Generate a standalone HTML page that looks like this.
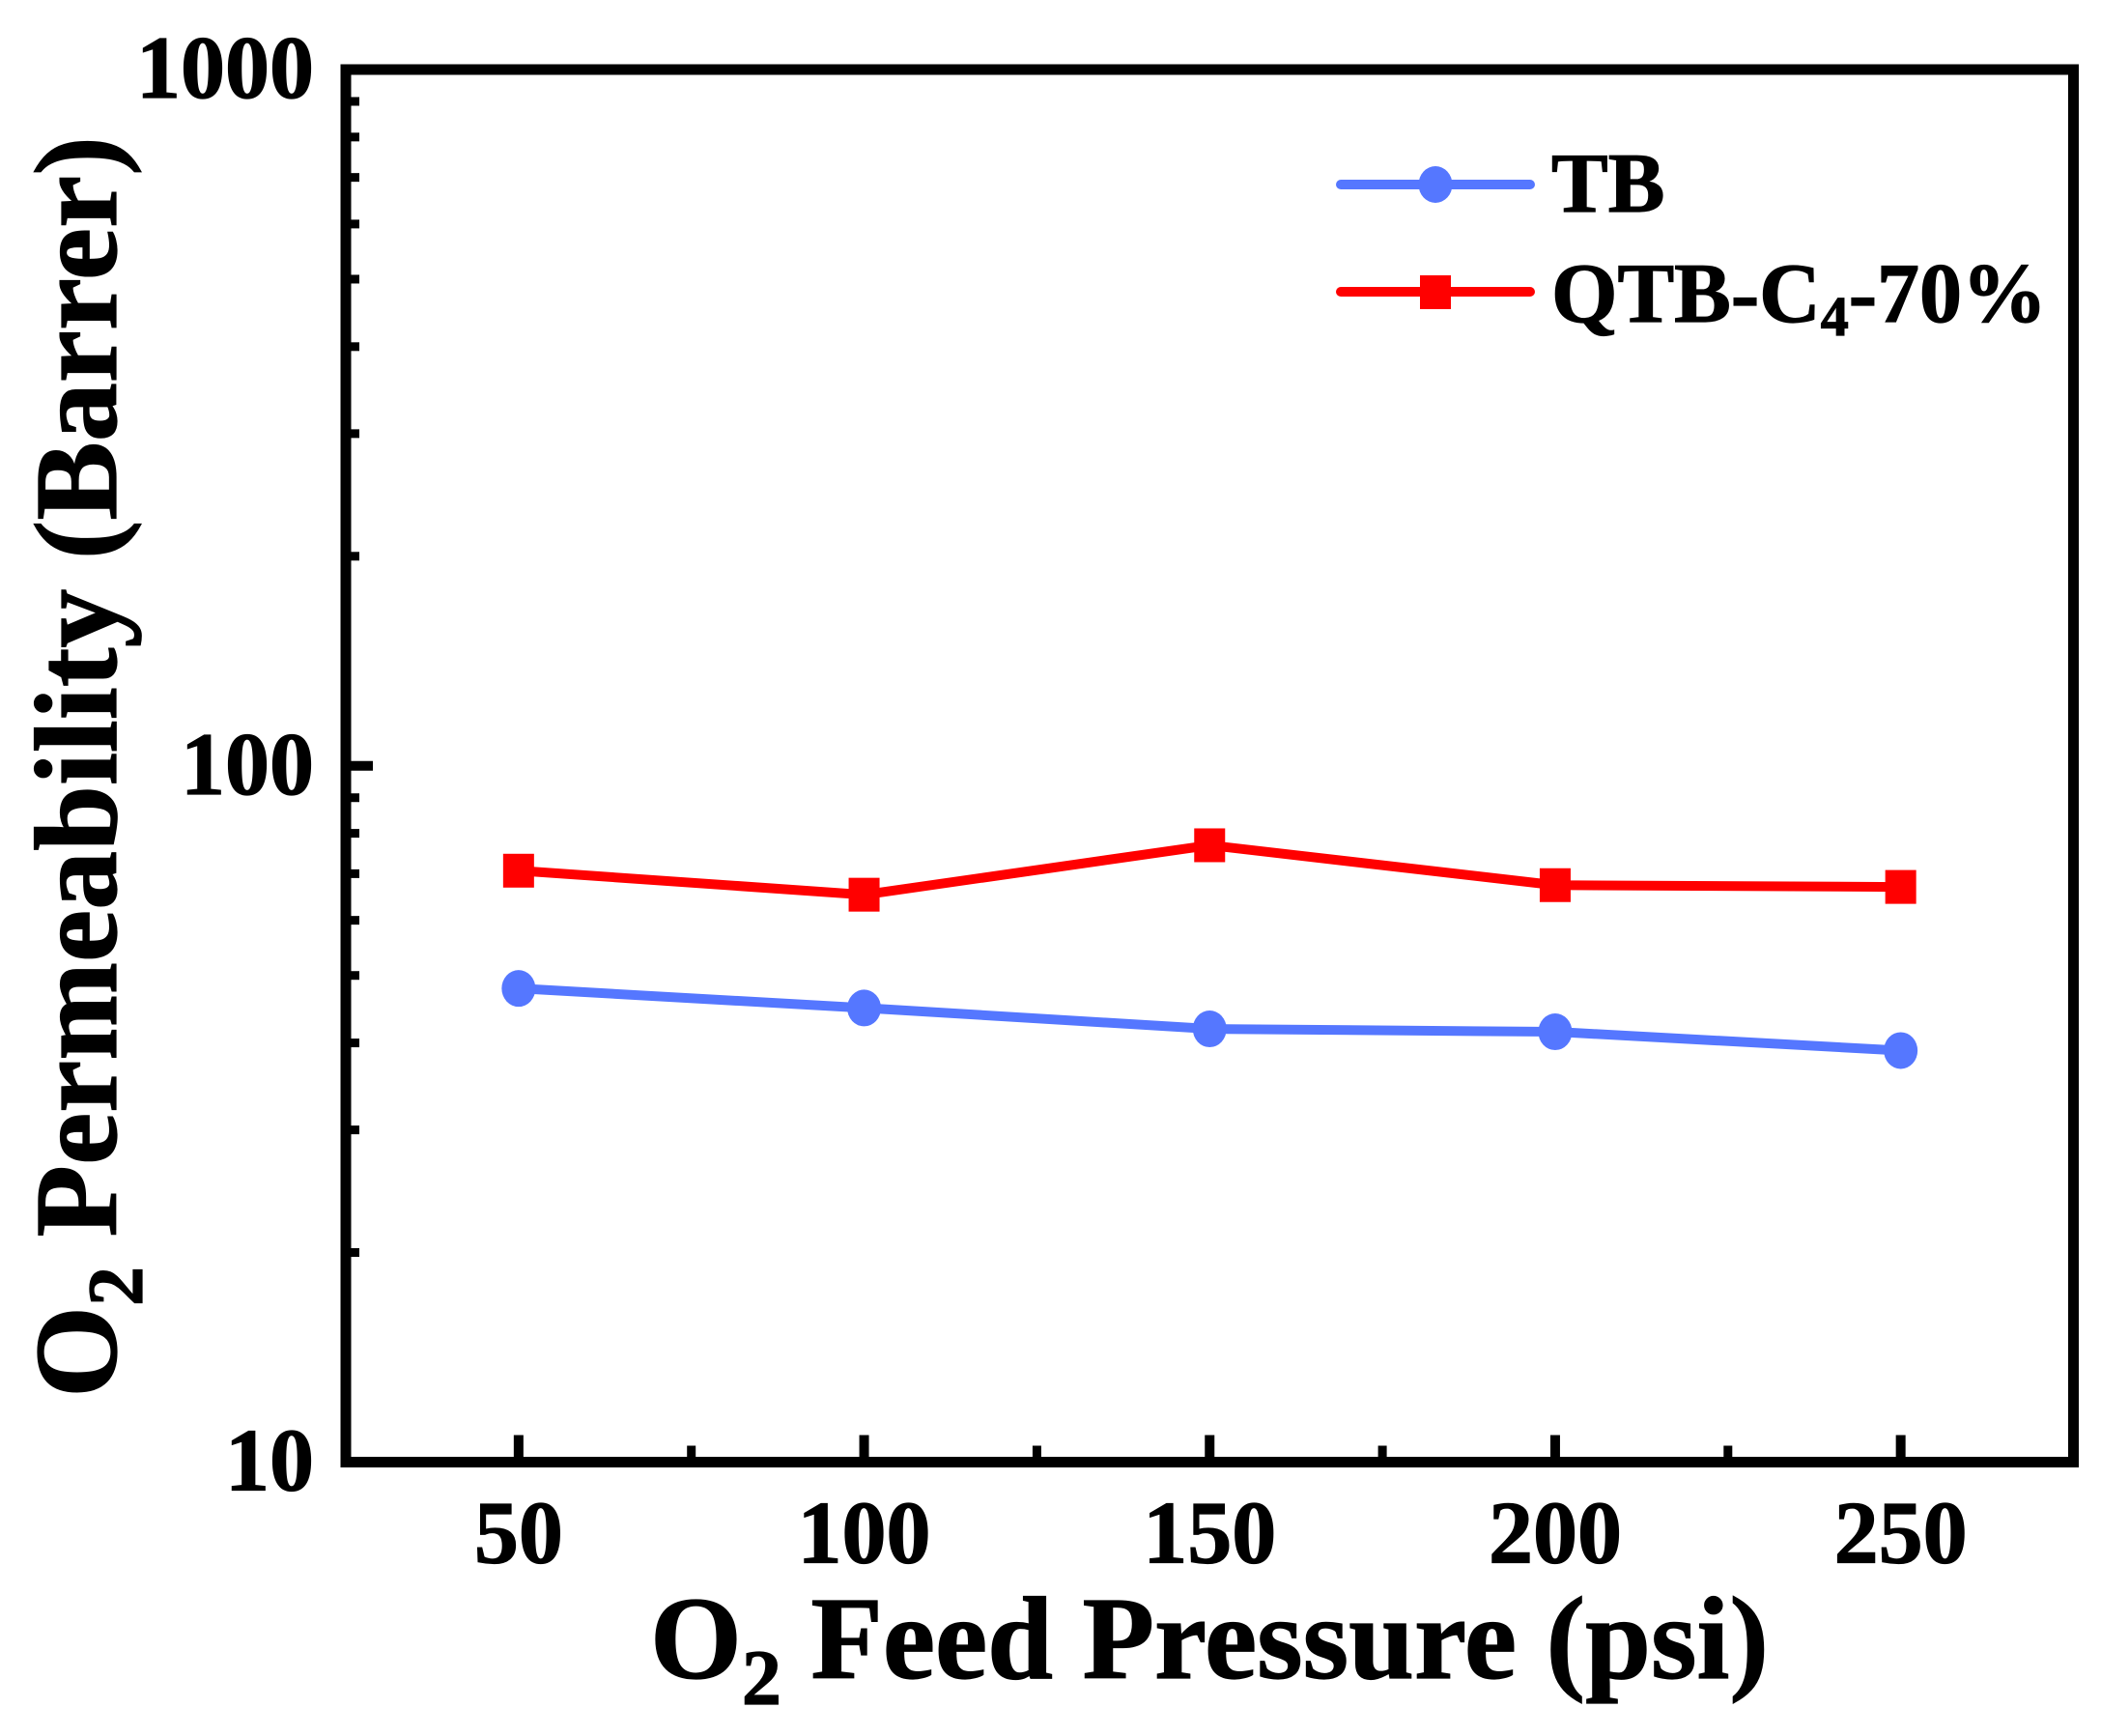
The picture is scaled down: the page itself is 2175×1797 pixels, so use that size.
<!DOCTYPE html>
<html lang="en">
<head>
<meta charset="utf-8">
<title>O2 Permeability vs Feed Pressure</title>
<style>
html,body{margin:0;padding:0;background:#fff;}
svg{display:block;}
text{font-family:"Liberation Serif",serif;font-weight:bold;fill:#000;stroke:#000;stroke-width:1.2px;}
</style>
</head>
<body>
<svg id="chart" xmlns="http://www.w3.org/2000/svg" width="2175" height="1797" viewBox="0 0 2175 1797">
  <rect x="0" y="0" width="2175" height="1797" fill="#fff"/>
  <g id="series-layer"></g>
  <g id="axis-layer"></g>
  <text x="1252" y="1737" text-anchor="middle" font-size="122">O<tspan font-size="82" dy="27">2</tspan><tspan dy="-27"> Feed Pressure (psi)</tspan></text>
  <text transform="translate(120,794) rotate(-90)" text-anchor="middle" font-size="122">O<tspan font-size="82" dy="27">2</tspan><tspan dy="-27"> Permeability (Barrer)</tspan></text>
  <g>
    <g>
      <line x1="1388" y1="191" x2="1584" y2="191" stroke="#5577ff" stroke-width="10" stroke-linecap="round"/>
      <ellipse cx="1486" cy="191" rx="17.5" ry="19" fill="#5577ff"/>
      <text x="1606" y="219" font-size="88">TB</text>
    </g>
    <g>
      <line x1="1388" y1="302" x2="1584" y2="302" stroke="#ff0000" stroke-width="10" stroke-linecap="round"/>
      <rect x="1470" y="285" width="32" height="35" fill="#ff0000"/>
      <text x="1606" y="333" font-size="88">QTB-C<tspan font-size="58" dy="14">4</tspan><tspan dy="-14">-70%</tspan></text>
    </g>
  </g>
</svg>
<script>
const pressures = [50, 100, 150, 200, 250];
const tbValues = [47.9, 44.9, 41.9, 41.5, 39.0];
const qtbValues = [70.7, 65.3, 76.9, 67.4, 67.0];
const xTickLabels = [50, 100, 150, 200, 250];
const xMinorTicks = [75, 125, 175, 225];
const yTickLabels = [10, 100, 1000];
const yMinorTicks = [20, 30, 40, 50, 60, 70, 80, 90, 200, 300, 400, 500, 600, 700, 800, 900];

const plotLeft = 358, plotRight = 2146.5, plotTop = 72, plotBottom = 1513.5;
const xMin = 25, xMax = 275, yMin = 10, yMax = 1000;
const SVG_NS = 'http://www.w3.org/2000/svg';

function xScale(v) {
  return plotLeft + (v - xMin) / (xMax - xMin) * (plotRight - plotLeft);
}
function yScale(v) {
  return plotBottom - (Math.log10(v) - Math.log10(yMin)) / (Math.log10(yMax) - Math.log10(yMin)) * (plotBottom - plotTop);
}
function make(tag, attrs, parent) {
  const el = document.createElementNS(SVG_NS, tag);
  Object.keys(attrs).forEach(function (k) { el.setAttribute(k, attrs[k]); });
  parent.appendChild(el);
  return el;
}

const axisLayer = document.getElementById('axis-layer');
const seriesLayer = document.getElementById('series-layer');

const frame = make('rect', { x: plotLeft, y: plotTop, width: plotRight - plotLeft, height: plotBottom - plotTop, fill: 'none', stroke: '#000', 'stroke-width': 11 }, axisLayer);



xTickLabels.forEach(function (v) {
  const tick = make('line', { x1: xScale(v), x2: xScale(v), y1: plotBottom, y2: plotBottom - 28, stroke: '#000', 'stroke-width': 10 }, axisLayer);
  
  
  const label = make('text', { x: xScale(v), y: plotBottom + 104, 'text-anchor': 'middle', 'font-size': 92 }, axisLayer);
  
  
  label.textContent = v;
});
xMinorTicks.forEach(function (v) {
  const tick = make('line', { x1: xScale(v), x2: xScale(v), y1: plotBottom, y2: plotBottom - 17, stroke: '#000', 'stroke-width': 9 }, axisLayer);
  
  
});
yTickLabels.forEach(function (v) {
  const tick = make('line', { x1: plotLeft, x2: plotLeft + 28, y1: yScale(v), y2: yScale(v), stroke: '#000', 'stroke-width': 10 }, axisLayer);
  
  
  const label = make('text', { x: 325, y: yScale(v) + 29, 'text-anchor': 'end', 'font-size': 92 }, axisLayer);
  
  
  label.textContent = v;
});
yMinorTicks.forEach(function (v) {
  const tick = make('line', { x1: plotLeft, x2: plotLeft + 14, y1: yScale(v), y2: yScale(v), stroke: '#000', 'stroke-width': 9 }, axisLayer);
  
  
});

function linePoints(values) {
  return pressures.map(function (p, i) { return xScale(p) + ',' + yScale(values[i]); }).join(' ');
}

const tbLine = make('polyline', { points: linePoints(tbValues), fill: 'none', stroke: '#5577ff', 'stroke-width': 10, 'stroke-linejoin': 'round' }, seriesLayer);


tbValues.forEach(function (v, i) {
  const pt = make('ellipse', { cx: xScale(pressures[i]), cy: yScale(v), rx: 17.5, ry: 19, fill: '#5577ff' }, seriesLayer);
  
  
});

const qtbLine = make('polyline', { points: linePoints(qtbValues), fill: 'none', stroke: '#ff0000', 'stroke-width': 10, 'stroke-linejoin': 'round' }, seriesLayer);


qtbValues.forEach(function (v, i) {
  const pt = make('rect', { x: xScale(pressures[i]) - 16, y: yScale(v) - 17.5, width: 32, height: 35, fill: '#ff0000' }, seriesLayer);
  
  
});
</script>
</body>
</html>
